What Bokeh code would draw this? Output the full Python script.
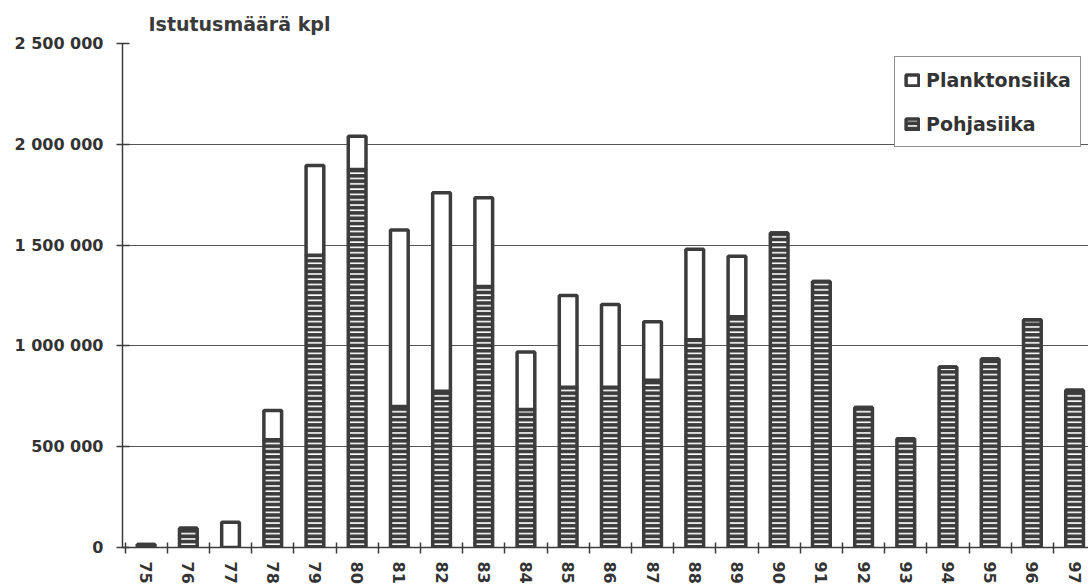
from bokeh.plotting import figure
from bokeh.models import (Range1d, FixedTicker, Legend, LegendItem,
                          ColumnDataSource)
from bokeh.embed import file_html
from bokeh.resources import INLINE

# Stocking numbers per year (pcs)
years = ["75", "76", "77", "78", "79", "80", "81", "82", "83", "84", "85", "86",
         "87", "88", "89", "90", "91", "92", "93", "94", "95", "96", "97"]
pohjasiika = [15000, 95000, 0, 535000, 1450000, 1875000, 700000, 775000,
              1295000, 685000, 795000, 795000, 830000, 1030000, 1145000,
              1560000, 1320000, 695000, 540000, 895000, 935000, 1130000, 780000]
planktonsiika = [0, 0, 125000, 145000, 445000, 165000, 875000, 985000,
                 440000, 285000, 455000, 410000, 290000, 450000, 300000,
                 0, 0, 0, 0, 0, 0, 0, 0]
y_ticks = [0, 500000, 1000000, 1500000, 2000000, 2500000]
y_tick_labels = ["0", "500 000", "1 000 000", "1 500 000", "2 000 000", "2 500 000"]

DARK = "#3c3c3c"
TEXT = "#333333"
FONT = "DejaVu Sans"

xs = list(range(len(years)))
total = [a + b for a, b in zip(pohjasiika, planktonsiika)]
src = ColumnDataSource(dict(x=xs, pohja=pohjasiika, total=total))

p = figure(width=1088, height=586,
           x_range=Range1d(-0.56, 22.33), y_range=Range1d(0, 2500000),
           output_backend="svg", toolbar_location=None,
           min_border_left=122, min_border_right=0,
           min_border_top=43, min_border_bottom=39)
p.outline_line_color = None
p.background_fill_color = "white"

# title above the frame, left aligned
p.title.text = "Istutusmäärä kpl"
p.title.align = "left"
p.title.offset = 26
p.title.standoff = 17
p.title.text_font = FONT
p.title.text_font_style = "bold"
p.title.text_font_size = "19px"
p.title.text_color = "#3a3a3a"

bar_kw = dict(width=0.42, line_color=DARK, line_width=3.5)
r_pohja = p.vbar(x="x", bottom=0, top="pohja", source=src, fill_color=DARK,
                 hatch_pattern="horizontal_line", hatch_color="white",
                 hatch_scale=5.3, hatch_weight=1.6, **bar_kw)
r_plank = p.vbar(x="x", bottom="pohja", top="total", source=src,
                 fill_color="white", **bar_kw)

legend = Legend(items=[LegendItem(label="Planktonsiika", renderers=[r_plank]),
                       LegendItem(label="Pohjasiika", renderers=[r_pohja])],
                location=(772, 400))
legend.label_text_font = FONT
legend.label_text_font_style = "bold"
legend.label_text_font_size = "19px"
legend.label_text_color = TEXT
legend.glyph_width = 16
legend.glyph_height = 14
legend.label_height = 27
legend.label_standoff = 6
legend.spacing = 17
legend.padding = 9
legend.margin = 0
legend.border_line_color = "#222222"
legend.border_line_width = 1.5
legend.background_fill_alpha = 1
p.add_layout(legend)

# grid
p.xgrid.visible = False
p.ygrid.ticker = FixedTicker(ticks=y_ticks)
p.ygrid.grid_line_color = "#555555"
p.ygrid.grid_line_width = 1

# y axis
ya = p.yaxis[0]
ya.ticker = FixedTicker(ticks=y_ticks)
ya.major_label_overrides = dict(zip(y_ticks, y_tick_labels))
ya.major_tick_in = 7
ya.major_tick_out = 6
ya.minor_tick_in = 0
ya.minor_tick_out = 0
ya.axis_line_color = DARK
ya.axis_line_width = 1.5
ya.major_tick_line_color = DARK
ya.major_tick_line_width = 1.5
ya.major_label_standoff = 13
ya.major_label_text_font = FONT
ya.major_label_text_font_style = "bold"
ya.major_label_text_font_size = "16px"
ya.major_label_text_color = TEXT

# x axis: labels at year centres, tick marks between years
xa = p.xaxis[0]
xa.ticker = FixedTicker(ticks=xs, minor_ticks=[i - 0.5 for i in range(len(years) + 1)])
xa.major_label_overrides = {i: y for i, y in zip(xs, years)}
xa.major_tick_in = 0
xa.major_tick_out = 0
xa.minor_tick_in = 5
xa.minor_tick_out = 6
xa.minor_tick_line_color = DARK
xa.minor_tick_line_width = 1.5
xa.axis_line_color = DARK
xa.axis_line_width = 1.5
xa.major_label_orientation = "vertical"
xa.major_label_standoff = 8
xa.major_label_text_font = FONT
xa.major_label_text_font_style = "bold"
xa.major_label_text_font_size = "16px"
xa.major_label_text_color = TEXT

open("out.html", "w").write(file_html(p, INLINE))
